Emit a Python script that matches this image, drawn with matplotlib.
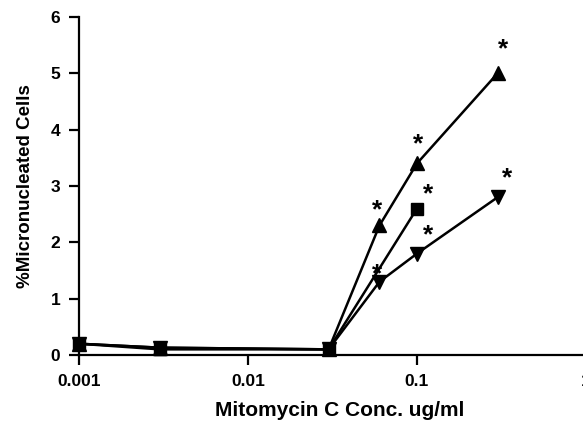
import matplotlib
matplotlib.use('Agg')
import matplotlib.pyplot as plt
from matplotlib.ticker import FixedLocator, FixedFormatter, NullLocator

plt.rcParams['font.family'] = ['Liberation Sans', 'DejaVu Sans']
plt.rcParams['font.weight'] = 'bold'

# data
conc_sq = [0.001, 0.003, 0.03, 0.1]
mn_sq = [0.2, 0.1, 0.1, 2.6]
conc_tri = [0.001, 0.003, 0.03, 0.06, 0.1, 0.3]
mn_up = [0.2, 0.13, 0.1, 2.3, 3.4, 5.0]
mn_down = [0.2, 0.13, 0.1, 1.3, 1.8, 2.8]
# points flagged as significant (index into series)
sig_sq = [3]
sig_up = [3, 4, 5]
sig_down = [3, 4, 5]

xticks = [0.001, 0.01, 0.1, 1]
xticklabels = ['0.001', '0.01', '0.1', '1']
yticks = [0, 1, 2, 3, 4, 5, 6]

fig = plt.figure(figsize=(5.83, 4.26), dpi=100)
ax = fig.add_axes([0.1355, 0.1667, 0.8696, 0.7934])

lw = 1.8
ax.plot(conc_tri, mn_up, color='black', lw=lw, marker='^', ms=9.5, clip_on=False, zorder=3)
ax.plot(conc_tri, mn_down, color='black', lw=lw, marker='v', ms=9.5, clip_on=False, zorder=3)
ax.plot(conc_sq, mn_sq, color='black', lw=lw, marker='s', ms=9, clip_on=False, zorder=4)

# star offsets (points) for each flagged point
def stars(xs, ys, idx, offs):
    for i, (dx, dy) in zip(idx, offs):
        ax.annotate('*', (xs[i], ys[i]), xytext=(dx, dy), textcoords='offset points',
                    ha='center', va='center', fontsize=19, fontweight='bold')

stars(conc_tri, mn_up, sig_up, [(-2, 11), (0.7, 14), (3.6, 17.5)])
stars(conc_sq, mn_sq, sig_sq, [(8, 10)])
stars(conc_tri, mn_down, sig_down, [(-1.4, 5), (8, 13), (6.5, 14)])

ax.set_xscale('log')
ax.set_xlim(0.001, 1)
ax.set_ylim(0, 6)
ax.xaxis.set_major_locator(FixedLocator(xticks))
ax.xaxis.set_major_formatter(FixedFormatter(xticklabels))
ax.xaxis.set_minor_locator(NullLocator())
ax.set_yticks(yticks)

for s in ['top', 'right']:
    ax.spines[s].set_visible(False)
for s in ['left', 'bottom']:
    ax.spines[s].set_linewidth(1.6)
ax.tick_params(direction='out', length=7.5, width=1.6, labelsize=12.5, pad=6)

ax.set_xlabel('Mitomycin C Conc. ug/ml', fontsize=15, fontweight='bold')
ax.set_ylabel('%Micronucleated Cells', fontsize=13.5, fontweight='bold', labelpad=12)
ax.xaxis.set_label_coords(0.515, -0.135)

fig.savefig('out.png', dpi=100)
